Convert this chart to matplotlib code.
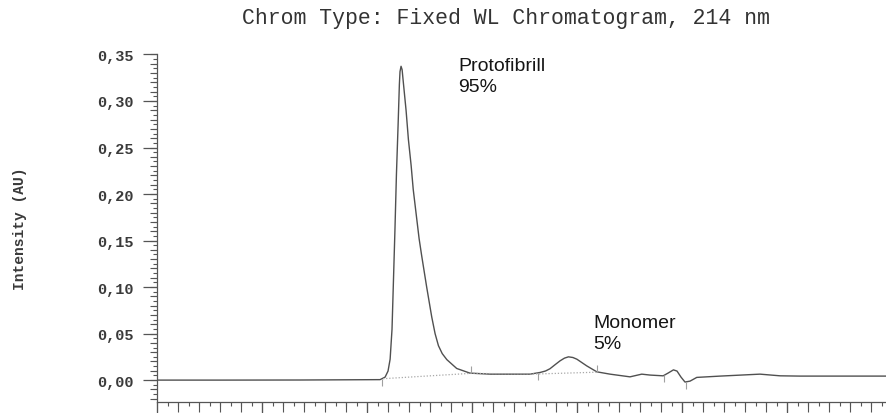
"""
Chromatogram at 214 nm: protofibril and monomer peaks.
"""
import numpy as np
import matplotlib
matplotlib.use('Agg')
import matplotlib.pyplot as plt
from matplotlib.ticker import MultipleLocator, FuncFormatter

# retention time (min) and absorbance (AU)
time_min = [0.00, 3.00, 6.81, 10.62, 10.86, 11.00, 11.10, 11.19, 11.26, 11.33,
            11.40, 11.48, 11.54, 11.57, 11.62, 11.67, 11.73, 11.86, 11.97, 12.10,
            12.20, 12.37, 12.48, 12.60, 12.84, 13.08, 13.24, 13.40, 13.58, 13.80,
            14.27, 14.90, 15.86, 17.76, 18.24, 18.50, 18.71, 18.95, 19.19, 19.40,
            19.59, 19.80, 19.99, 20.46, 20.94, 21.57, 22.52, 23.08, 23.48, 24.10,
            24.33, 24.59, 24.76, 24.95, 25.14, 25.38, 25.70, 26.81, 28.71, 29.67,
            30.62, 34.71]
intensity = [0.0000, 0.0000, 0.0001, 0.0005, 0.0032, 0.0097, 0.0225, 0.0547, 0.1083, 0.1620,
             0.2210, 0.2747, 0.3176, 0.3315, 0.3373, 0.3337, 0.3197, 0.2897, 0.2586, 0.2307,
             0.2049, 0.1727, 0.1520, 0.1340, 0.1000, 0.0680, 0.0500, 0.0370, 0.0285, 0.0220,
             0.0125, 0.0075, 0.0064, 0.0064, 0.0082, 0.0098, 0.0122, 0.0165, 0.0207, 0.0236,
             0.0250, 0.0243, 0.0225, 0.0153, 0.0089, 0.0064, 0.0035, 0.0064, 0.0054, 0.0046,
             0.0075, 0.0110, 0.0097, 0.0032, -0.0021, -0.0011, 0.0029, 0.0043, 0.0064, 0.0046,
             0.0043, 0.0043]

# integration baseline drawn under the peaks
base_time = [10.76, 14.90, 18.13, 20.95]
base_level = [0.0015, 0.0072, 0.0066, 0.0085]

# integration event marks (time, direction of the little tick)
event_time = [10.71, 14.94, 18.13, 20.95, 24.14, 25.19]
event_dir = [-1, 1, -1, 1, -1, -1]

peak_labels = ['Protofibrill\n95%', 'Monomer\n5%']
peak_label_time = [14.33, 20.76]
peak_label_level = [0.347, 0.071]

AXIS_COLOR = '#555555'
MONO = 'Liberation Mono'


def comma_fmt(v, pos):
    if abs(v) < 1e-9:
        v = 0.0
    return f'{v:.2f}'.replace('.', ',')


fig = plt.figure(figsize=(8.86, 4.14), dpi=100)
ax = fig.add_axes([157 / 886, 11.5 / 414, 729 / 886, 347.5 / 414])

ax.plot(time_min, intensity, color='#505050', lw=1.0)
ax.plot(base_time, base_level, color='#a8a8a8', lw=0.9, ls=(0, (1, 1.5)))

ev_y = np.interp(event_time, time_min, intensity)
ax.vlines(event_time, ev_y, ev_y + np.array(event_dir) * 0.0075,
          color='#a0a0a0', lw=0.8)

for txt, t, lv in zip(peak_labels, peak_label_time, peak_label_level):
    ax.text(t, lv, txt, ha='left', va='top', fontsize=14, color='#151515',
            family='Liberation Sans', linespacing=1.3)

ax.set_xlim(0, 34.71)
ax.set_ylim(-0.023, 0.3505)

for side in ['top', 'right']:
    ax.spines[side].set_visible(False)
for side in ['left', 'bottom']:
    ax.spines[side].set_color(AXIS_COLOR)
    ax.spines[side].set_linewidth(0.9)
ax.spines['left'].set_bounds(-0.023, 0.35)

# y ticks
ax.yaxis.set_major_locator(MultipleLocator(0.05))
ax.yaxis.set_minor_locator(MultipleLocator(0.005))
ax.yaxis.set_major_formatter(FuncFormatter(comma_fmt))
ax.tick_params(axis='y', which='major', length=10, width=0.9, color=AXIS_COLOR,
               pad=7, labelsize=11, labelcolor='#3a3a3a')
ax.tick_params(axis='y', which='minor', length=3, width=0.8, color=AXIS_COLOR)
for lab in ax.get_yticklabels():
    lab.set_family(MONO)
    lab.set_fontweight('bold')

# x ticks (labels fall outside the picture)
ax.xaxis.set_major_locator(MultipleLocator(5))
ax.xaxis.set_minor_locator(MultipleLocator(0.5))
ax.tick_params(axis='x', which='major', length=12, width=0.9, color=AXIS_COLOR,
               labelbottom=False)
ax.tick_params(axis='x', which='minor', length=3, width=0.8, color=AXIS_COLOR)

# medium ticks every 1 min / 0.01 AU
secx = ax.secondary_xaxis('bottom')
secx.xaxis.set_major_locator(MultipleLocator(1))
secx.tick_params(length=7.5, width=0.8, color=AXIS_COLOR, labelbottom=False)
secx.spines['bottom'].set_visible(False)

secy = ax.secondary_yaxis('left')
secy.yaxis.set_major_locator(MultipleLocator(0.01))
secy.tick_params(length=5, width=0.8, color=AXIS_COLOR, labelleft=False)
secy.spines['left'].set_visible(False)

ax.set_ylabel('Intensity (AU)', family=MONO, fontweight='bold', fontsize=10.5,
              color='#3a3a3a')
ax.yaxis.set_label_coords(-0.178, 0.5)

fig.text(0.571, 0.9565, 'Chrom Type: Fixed WL Chromatogram, 214 nm',
         ha='center', va='center', family=MONO, fontsize=15.5, color='#333333')

fig.savefig('out.png', dpi=100)
